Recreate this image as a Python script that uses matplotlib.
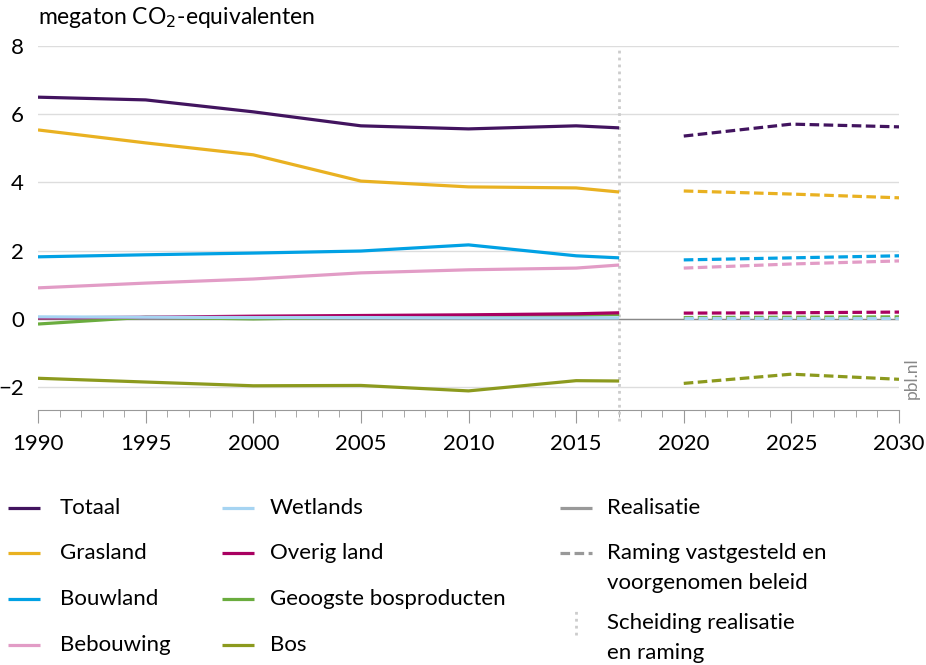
import matplotlib
matplotlib.use("Agg")
import matplotlib.pyplot as plt
from matplotlib.lines import Line2D
from matplotlib.ticker import MultipleLocator

plt.rcParams['font.family'] = ['Lato', 'DejaVu Sans']

# jaren realisatie en raming
jaren_real = [1990, 1995, 2000, 2005, 2010, 2015, 2017]
jaren_raming = [2020, 2025, 2030]

totaal_real = [6.50, 6.42, 6.07, 5.66, 5.57, 5.66, 5.60]
totaal_raming = [5.36, 5.71, 5.63]
grasland_real = [5.54, 5.16, 4.81, 4.04, 3.87, 3.84, 3.72]
grasland_raming = [3.75, 3.66, 3.55]
bouwland_real = [1.82, 1.88, 1.93, 1.99, 2.17, 1.85, 1.79]
bouwland_raming = [1.73, 1.79, 1.85]
bebouwing_real = [0.91, 1.05, 1.17, 1.35, 1.44, 1.49, 1.58]
bebouwing_raming = [1.49, 1.61, 1.70]
wetlands_real = [0.06, 0.05, 0.04, 0.04, 0.03, 0.03, 0.03]
wetlands_raming = [0.02, 0.02, 0.02]
overig_real = [0.03, 0.05, 0.08, 0.10, 0.12, 0.15, 0.18]
overig_raming = [0.17, 0.18, 0.20]
geoogst_real = [-0.15, 0.05, 0.00, 0.05, 0.07, 0.10, 0.13]
geoogst_raming = [0.04, 0.05, 0.06]
bos_real = [-1.74, -1.85, -1.96, -1.95, -2.11, -1.81, -1.82]
bos_raming = [-1.89, -1.62, -1.77]

series = [
    ("Totaal", "#42145f", totaal_real, totaal_raming),
    ("Grasland", "#e9b121", grasland_real, grasland_raming),
    ("Bouwland", "#01a1e4", bouwland_real, bouwland_raming),
    ("Bebouwing", "#e29cc6", bebouwing_real, bebouwing_raming),
    ("Wetlands", "#a6d4f2", wetlands_real, wetlands_raming),
    ("Overig land", "#a90061", overig_real, overig_raming),
    ("Geoogste bosproducten", "#6aac3e", geoogst_real, geoogst_raming),
    ("Bos", "#8c9a1e", bos_real, bos_raming),
]
scheiding_jaar = 2017

fig = plt.figure(figsize=(9.26, 6.65), dpi=100)
ax = fig.add_axes([38 / 926, 1 - 410 / 665, 861 / 926, 364 / 665])

ax.set_xlim(1990, 2030)
ax.set_ylim(-2.67, 8)

# rasterlijnen
ax.set_yticks([-2, 0, 2, 4, 6, 8])
ax.yaxis.grid(True, color="#dddddd", linewidth=1)
ax.axhline(0, color="#888888", linewidth=1, zorder=1)
ax.set_axisbelow(True)

lw = 2.3
for naam, kleur, real, raming in reversed(series):
    ax.plot(jaren_real, real, color=kleur, linewidth=lw, solid_capstyle="butt", zorder=3)
    ax.plot(jaren_raming, raming, color=kleur, linewidth=lw, dashes=(3, 1.4),
            dash_capstyle="butt", zorder=3)

ax.axvline(scheiding_jaar, color="#cccccc", linewidth=2, linestyle=(0, (1, 1.5)), zorder=2,
           ymin=-0.03, clip_on=False)

for s in ["top", "left", "right"]:
    ax.spines[s].set_visible(False)
ax.spines["bottom"].set_color("#999999")

ax.xaxis.set_major_locator(MultipleLocator(5))
ax.xaxis.set_minor_locator(MultipleLocator(1))
ax.tick_params(axis="x", which="major", length=9, color="#999999", labelsize=16, pad=8)
ax.tick_params(axis="x", which="minor", length=5, color="#999999")
ax.tick_params(axis="y", length=0, labelsize=16, pad=10)

fig.text(38 / 926, 1 - 18 / 665, "megaton CO$_2$-equivalenten", fontsize=16.5,
         va="center", ha="left")
fig.text(912 / 926, 1 - 378 / 665, "pbl.nl", rotation=90, fontsize=12.5,
         color="#888888", ha="center", va="center")

# legenda
def legend_item(x_lijn, x_tekst, y, kleur, tekst, stijl="-", regels=1):
    yf = 1 - y / 665
    if stijl == ":":
        fig.add_artist(Line2D([x_lijn / 926 + 0.017] * 2, [yf - 0.018, yf + 0.018],
                              color="#cccccc", linewidth=2, linestyle=(0, (1, 1.5))))
    else:
        ls = "-" if stijl == "-" else (0, (3, 1.4))
        fig.add_artist(Line2D([x_lijn / 926, (x_lijn + 32) / 926], [yf, yf],
                              color=kleur, linewidth=lw, linestyle=ls,
                              solid_capstyle="butt", dash_capstyle="butt"))
    ytekst = 1 - (y + 15 * (regels - 1)) / 665
    fig.text(x_tekst / 926, ytekst, tekst, fontsize=16, va="center", ha="left",
             linespacing=1.65)

rijen = [508, 553, 599, 645]
for i, (naam, kleur, _, _) in enumerate(series):
    if i < 4:
        legend_item(8, 60, rijen[i], kleur, naam)
    else:
        legend_item(222, 270, rijen[i - 4], kleur, naam)
legend_item(560, 607, 508, "#999999", "Realisatie")
legend_item(560, 607, 553, "#999999", "Raming vastgesteld en\nvoorgenomen beleid", "--", 2)
legend_item(560, 607, 623, "#cccccc", "Scheiding realisatie\nen raming", ":", 2)

fig.savefig("out.png", dpi=100)
